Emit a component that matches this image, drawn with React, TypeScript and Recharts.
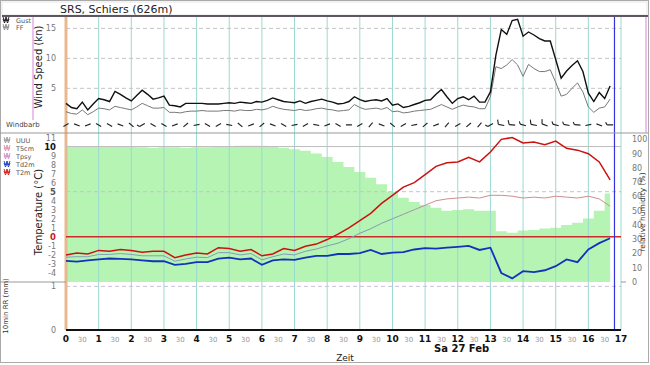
import React from 'react'
import { ComposedChart, Line, Area, Scatter, Bar, XAxis, YAxis, ReferenceLine } from 'recharts'

// 10-minute wind values (kn), 0:00 .. 16:40
const gust = [
  2.5, 1.8, 1.6, 2.7, 1.4, 2.4, 3.3, 3.1, 2.8, 4.5, 4.0, 3.4, 2.9, 3.8, 4.7, 4.0, 3.2, 3.4,
  3.7, 2.2, 2.1, 1.9, 2.5, 2.5, 2.5, 2.5, 2.4, 2.4, 2.4,
  2.5, 2.6, 2.5, 2.7, 2.6, 2.5, 2.8, 2.7, 3.0, 3.4, 3.1, 2.8, 2.7, 2.6, 2.9, 2.5, 2.8, 3.0,
  3.2, 2.9, 2.7, 2.4, 2.5, 2.8, 3.6, 3.1, 2.8, 3.0, 3.1, 2.9, 3.3, 2.2, 2.4, 1.8, 2.0, 2.3,
  2.6, 3.0, 3.1, 4.0, 4.8, 3.6, 2.5, 3.3, 3.6, 3.1, 3.7, 2.7, 2.7, 4.4, 10.5, 14.8, 14.0, 16.3,
  16.5, 13.7, 14.4, 13.9, 13.3, 12.9, 12.9, 9.8, 6.7, 7.9, 8.8, 9.6, 7.8, 4.2, 2.8, 4.3, 3.3, 5.4,
]
const ff = [
  1.1, 0.8, 0.7, 1.4, 0.6, 1.1, 1.7, 1.6, 1.4, 2.0, 1.8, 1.6, 1.4, 1.9, 2.5, 2.1, 1.7, 1.7,
  1.8, 1.0, 1.0, 0.9, 1.1, 1.2, 1.2, 1.3, 1.2, 1.2, 1.2,
  1.3, 1.3, 1.2, 1.4, 1.3, 1.3, 1.5, 1.4, 1.6, 2.0, 1.7, 1.5, 1.4, 1.3, 1.5, 1.3, 1.4, 1.6,
  1.7, 1.5, 1.4, 1.2, 1.3, 1.4, 2.3, 1.8, 1.5, 1.6, 1.7, 1.5, 1.8, 1.1, 1.2, 0.9, 1.0, 1.2,
  1.3, 1.4, 1.5, 1.9, 2.3, 1.9, 1.5, 1.9, 2.2, 2.0, 1.9, 1.6, 1.6, 3.6, 8.6, 8.3, 8.9, 9.8,
  8.9, 7.0, 9.0, 8.3, 7.8, 7.8, 8.1, 6.0, 3.7, 4.0, 5.0, 5.9, 4.4, 1.9, 1.0, 1.7, 1.9, 3.2,
]

// 20-minute values, 0:00 .. 16:40
const windDir = [
  240, 290, 250, 300, 120, 290, 310, 240, 120, 300, 250, 230, 260, 300, 240, 280, 310,
  250, 230, 290, 300, 260, 240, 280, 250, 300, 270, 240, 220, 290, 310, 240, 260, 230,
  250, 220, 240, 230, 220, 240, 280, 275, 285, 280, 290, 285, 280, 275, 260, 290, 270,
]
const rh = [
  95, 95, 95, 95, 95, 95, 95, 94.5, 94, 94.5, 94.5, 94, 94.5, 94.5, 95, 95, 95.5,
  95.5, 95.5, 95, 94, 93, 92, 90, 87.5, 84, 80.5, 77, 73, 68.5, 63, 59, 56, 54,
  52, 50, 50.5, 51, 50, 50, 35.5, 34.5, 36, 36.5, 37.5, 38, 40, 41.5, 44.5, 50, 62,
]
const t2m = [
  -2.0, -1.8, -1.9, -1.5, -1.6, -1.4, -1.5, -1.7, -1.6, -1.6, -2.3, -2.0, -1.8, -1.9, -1.2,
  -1.3, -1.6, -1.4, -2.1, -1.9, -1.3, -1.5, -1.05, -0.8, -0.3, 0.3, 1.0, 1.8, 2.6, 3.7,
  4.6, 5.5, 6.0, 6.9, 7.8, 8.2, 8.3, 8.8, 8.3, 9.4, 10.8, 11.0, 10.4, 10.5, 10.2,
  10.6, 9.8, 9.6, 9.2, 8.3, 6.3,
]
const td2m = [
  -2.65, -2.75, -2.6, -2.5, -2.4, -2.45, -2.5, -2.6, -2.7, -2.7, -3.1, -3.0, -2.8, -2.8, -2.4,
  -2.3, -2.5, -2.4, -3.1, -2.6, -2.5, -2.55, -2.3, -2.1, -2.1, -1.9, -1.9, -1.8, -1.45, -1.9,
  -1.75, -1.7, -1.4, -1.25, -1.3, -1.2, -1.1, -1.0, -1.45, -1.2, -4.0, -4.6, -3.8, -3.9, -3.7,
  -3.25, -2.5, -2.8, -1.4, -0.7, -0.15,
]
const tpsy = [
  -2.25, -2.2, -2.2, -1.95, -1.95, -1.85, -1.95, -2.1, -2.1, -2.1, -2.7, -2.45, -2.25, -2.3, -1.75,
  -1.75, -2.0, -1.85, -2.55, -2.2, -1.9, -2.0, -1.6, -1.35, -1.0, -0.7, -0.2, 0.4, 0.9, 1.5,
  2.0, 2.5, 3.0, 3.5, 4.0, 4.2, 4.3, 4.4, 4.3, 4.6, 4.6, 4.5, 4.3, 4.4, 4.3,
  4.5, 4.4, 4.3, 4.5, 4.2, 3.4,
]
// hourly precipitation (mm), no rain
const rr = [0, 0, 0, 0, 0, 0, 0, 0, 0, 0, 0, 0, 0, 0, 0, 0, 0]

const hourLines = [1, 2, 3, 4, 5, 6, 7, 8, 9, 10, 11, 12, 13, 14, 15, 16, 17]
const timeTicks = Array.from({ length: 35 }, (_, i) => i / 2)
const tempTicks = [-4, -3, -2, -1, 0, 1, 2, 3, 4, 5, 6, 7, 8, 9, 10, 11]
const rhTicks = [0, 10, 20, 30, 40, 50, 60, 70, 80, 90, 100]
const windTicks = [5, 10, 15]
const NOW = 16.8

const windRows = gust.map((g, i) => ({ t: i / 6, gust: g, ff: ff[i] }))
const barbRows = windDir.map((d, i) => ({ t: i / 3, dir: d, speed: ff[i * 2], row: -1.1 }))
const tempRows = t2m.map((v, i) => ({ t: i / 3, rh: rh[i], t2m: v, td2m: td2m[i], tpsy: tpsy[i] }))
const rrRows = rr.map((v, i) => ({ t: i + 0.5, rr: v }))

const W = 650
const FONT = 'DejaVu Sans'
const TEAL = '#9ad9d0'

function Barb(props: any) {
  const { cx, cy, payload } = props
  if (cx == null || cy == null) return null
  const a = (payload.dir * Math.PI) / 180
  const ux = Math.sin(a)
  const uy = -Math.cos(a)
  const L = 3
  const x1 = cx - ux * L
  const y1 = cy - uy * L
  const x2 = cx + ux * L
  const y2 = cy + uy * L
  let feather = null
  if (payload.speed >= 2.5) {
    const fl = payload.speed >= 7.5 ? 4.5 : 2.5
    feather = <line x1={x2} y1={y2} x2={x2 - uy * fl + ux * 1.5} y2={y2 + ux * fl + uy * 1.5} />
  }
  return (
    <g stroke="#222" strokeWidth={1.1} fill="none">
      <line x1={x1} y1={y1} x2={x2} y2={y2} />
      {feather}
    </g>
  )
}

const GrayTick = (anchor: 'start' | 'end') => (props: any) => {
  const { x, y, payload } = props
  return (
    <text x={x} y={y} dy={3} textAnchor={anchor} fontSize={8} fill="#777" fontFamily={FONT}>
      {payload.value}
    </text>
  )
}

function TempTick(props: any) {
  const { x, y, payload } = props
  const v = payload.value
  const strong = v === 0 || v === 5 || v === 10
  const fill = v === 0 ? '#d01818' : v === 10 ? '#111' : v === 5 ? '#555' : '#777'
  return (
    <text x={x} y={y} dy={3} textAnchor="end" fontSize={strong ? 8.5 : 8} fontWeight={strong ? 'bold' : 'normal'} fill={fill} fontFamily={FONT}>
      {v}
    </text>
  )
}

function TimeTick(props: any) {
  const { x, y, payload } = props
  const v = payload.value
  const whole = Number.isInteger(v)
  return (
    <text x={x} y={y + 12} textAnchor="middle" fontSize={whole ? 9 : 7} fontWeight={whole ? 'bold' : 'normal'} fill={whole ? '#111' : '#999'} fontFamily={FONT}>
      {whole ? v : '30'}
    </text>
  )
}

function zig(x: number, y: number) {
  return `M${x},${y} l1.5,4 l1.5,-4 l1.5,4 l1.5,-4 M${x},${y + 2} l1.5,4 l1.5,-4 l1.5,4 l1.5,-4`
}

const tempLegend = [
  { name: 'UUU', color: '#999' },
  { name: 'T5cm', color: '#e090a8' },
  { name: 'Tpsy', color: '#c890c8' },
  { name: 'Td2m', color: '#1133bb' },
  { name: 'T2m', color: '#cc1111' },
]

export default function App() {
  return (
    <div style={{ position: 'absolute', left: 0, top: 0, width: 650, height: 365, background: '#fff', fontFamily: FONT }}>
      <style>{'.recharts-surface { overflow: visible; } .recharts-wrapper { overflow: visible; }'}</style>
      <svg width={0} height={0} style={{ position: 'absolute' }}>
        <defs>
          <linearGradient id="tpsyGrad" x1="0" y1="0" x2="1" y2="0">
            <stop offset="0" stopColor="#7fa2b8" />
            <stop offset="0.58" stopColor="#7f98b8" />
            <stop offset="0.68" stopColor="#cf8c8c" />
            <stop offset="1" stopColor="#cf8c8c" />
          </linearGradient>
        </defs>
      </svg>

      {/* wind panel */}
      <div style={{ position: 'absolute', left: 0, top: 0 }}>
        <ComposedChart width={W} height={133} data={windRows} margin={{ top: 17, right: 29, bottom: 0, left: 0 }}>
          <XAxis type="number" dataKey="t" domain={[0, 17]} hide />
          <YAxis type="number" width={66} domain={[-2.45, 16.9]} allowDataOverflow ticks={windTicks} interval={0} axisLine={false} tickLine={false} tickMargin={4} tick={GrayTick('end')} />
          {windTicks.map((v) => (
            <ReferenceLine key={'w' + v} y={v} stroke="#c4c4c4" strokeDasharray="4 3" />
          ))}
          {hourLines.map((h) => (
            <ReferenceLine key={'h' + h} x={h} stroke={TEAL} />
          ))}
          <ReferenceLine x={0} stroke="#e8b98c" strokeWidth={3} />
          <ReferenceLine x={NOW} stroke="#3333dd" strokeWidth={1.2} />
          <Line dataKey="ff" stroke="#777" strokeWidth={1} dot={false} activeDot={false} isAnimationActive={false} />
          <Line dataKey="gust" stroke="#111" strokeWidth={1.4} dot={false} activeDot={false} isAnimationActive={false} />
          <Scatter data={barbRows} dataKey="row" shape={Barb} isAnimationActive={false} />
        </ComposedChart>
      </div>

      {/* temperature / humidity panel */}
      <div style={{ position: 'absolute', left: 0, top: 133 }}>
        <ComposedChart width={W} height={149} data={tempRows} margin={{ top: 0, right: 0, bottom: 0, left: 0 }}>
          <XAxis type="number" dataKey="t" domain={[0, 17]} hide />
          <YAxis yAxisId="temp" type="number" width={66} domain={[-5, 11.5]} allowDataOverflow ticks={tempTicks} interval={0} axisLine={false} tickLine={false} tickMargin={4} tick={TempTick} />
          <YAxis yAxisId="rh" orientation="right" type="number" width={29} domain={[0, 104.4]} allowDataOverflow ticks={rhTicks} interval={0} axisLine={false} tickLine={false} tickMargin={5} tick={GrayTick('start')} />
          <Area yAxisId="rh" dataKey="rh" type="step" fill="#b6f4b4" fillOpacity={1} stroke="none" isAnimationActive={false} />
          {hourLines.map((h) => (
            <ReferenceLine yAxisId="temp" key={'h' + h} x={h} stroke={TEAL} />
          ))}
          <ReferenceLine yAxisId="temp" x={0} stroke="#e8b98c" strokeWidth={3} />
          <ReferenceLine yAxisId="temp" y={10} stroke="#bdbdbd" />
          <ReferenceLine yAxisId="temp" y={5} stroke="#c4c4c4" strokeDasharray="4 3" />
          <ReferenceLine yAxisId="temp" y={0} stroke="#cc2a2a" strokeWidth={1.5} />
          <ReferenceLine yAxisId="temp" x={NOW} stroke="#3333dd" strokeWidth={1.2} />
          <Line yAxisId="temp" dataKey="tpsy" stroke="url(#tpsyGrad)" strokeWidth={1} dot={false} activeDot={false} isAnimationActive={false} />
          <Line yAxisId="temp" dataKey="td2m" stroke="#1133bb" strokeWidth={1.8} dot={false} activeDot={false} isAnimationActive={false} />
          <Line yAxisId="temp" dataKey="t2m" stroke="#cc1111" strokeWidth={1.5} dot={false} activeDot={false} isAnimationActive={false} />
        </ComposedChart>
      </div>

      {/* 10 min precipitation panel */}
      <div style={{ position: 'absolute', left: 0, top: 282 }}>
        <ComposedChart width={W} height={83} data={rrRows} margin={{ top: 0, right: 29, bottom: 0, left: 0 }}>
          <XAxis type="number" dataKey="t" domain={[0, 17]} ticks={timeTicks} interval={0} height={35} axisLine={{ stroke: '#111', strokeWidth: 2 }} tickLine={false} tickSize={0} tickMargin={0} tick={TimeTick} />
          <YAxis type="number" width={66} domain={[0, 1.1]} allowDataOverflow ticks={[0, 1]} interval={0} axisLine={false} tickLine={false} tickMargin={4} tick={GrayTick('end')} />
          <ReferenceLine y={1} stroke="#cdbfd6" strokeDasharray="4 3" />
          {hourLines.map((h) => (
            <ReferenceLine key={'h' + h} x={h} stroke={TEAL} />
          ))}
          <ReferenceLine x={0} stroke="#e8b98c" strokeWidth={3} />
          <ReferenceLine x={NOW} stroke="#3333dd" strokeWidth={1.2} />
          <Bar dataKey="rr" fill="#3366cc" isAnimationActive={false} />
        </ComposedChart>
      </div>

      {/* frame, titles, legends */}
      <svg width={650} height={365} style={{ position: 'absolute', left: 0, top: 0, pointerEvents: 'none' }} fontFamily={FONT}>
        <rect x={0.5} y={0.5} width={648} height={362} fill="none" stroke="#aaa" />
        <rect x={2} y={2} width={645} height={13} fill="#fff" stroke="#ccc" strokeWidth={0.5} />
        <line x1={2} y1={16} x2={648} y2={16} stroke="#2a2030" strokeWidth={1.5} />
        <text x={60} y={13} fontSize={11} fill="#222">SRS, Schiers (626m)</text>

        <line x1={0} y1={133} x2={648} y2={133} stroke="#999" />
        <line x1={0} y1={282} x2={66} y2={282} stroke="#999" />
        <line x1={621} y1={282} x2={626} y2={282} stroke="#999" />
        <line x1={33} y1={17} x2={33} y2={120} stroke="#d884d8" />
        <line x1={646} y1={17} x2={646} y2={133} stroke="#d884d8" />

        <path d={zig(3, 17)} stroke="#111" fill="none" strokeWidth={0.9} />
        <text x={16} y={23} fontSize={6.5} fill="#555">Gust</text>
        <path d={zig(3, 24)} stroke="#888" fill="none" strokeWidth={0.9} />
        <text x={16} y={30} fontSize={6.5} fill="#555">FF</text>
        <text x={6} y={127} fontSize={7} fill="#444">Windbarb</text>
        <text transform="translate(42,67) rotate(-90)" textAnchor="middle" fontSize={10} fill="#222">Wind Speed (kn)</text>

        {tempLegend.map((item, i) => (
          <g key={item.name}>
            <path d={zig(4, 137 + i * 8)} stroke={item.color} fill="none" strokeWidth={0.9} />
            <text x={16} y={142.5 + i * 8} fontSize={6.5} fill="#555">{item.name}</text>
          </g>
        ))}
        <text transform="translate(42,212) rotate(-90)" textAnchor="middle" fontSize={10} fill="#222">Temperature (°C)</text>
        <text transform="translate(645,212) rotate(-90)" textAnchor="middle" fontSize={7.5} fill="#333">relative humidity (%)</text>

        <text transform="translate(8,306) rotate(-90)" textAnchor="middle" fontSize={7} fill="#333">10min RR (mm)</text>
        <text x={434} y={352} fontSize={10} fontWeight="bold" fill="#111">Sa 27 Feb</text>
        <text x={345} y={361} textAnchor="middle" fontSize={9} fill="#222">Zeit</text>
      </svg>
    </div>
  )
}
